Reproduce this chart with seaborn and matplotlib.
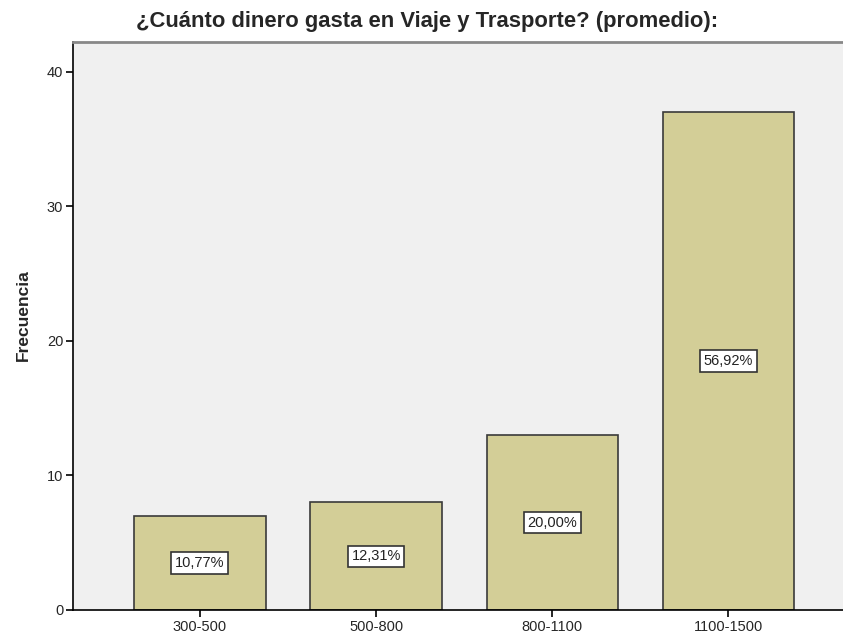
import matplotlib
matplotlib.use("Agg")
import matplotlib.pyplot as plt
import seaborn as sns
import pandas as pd

categorias = ["300-500", "500-800", "800-1100", "1100-1500"]
frecuencias = [7, 8, 13, 37]
porcentajes = ["10,77%", "12,31%", "20,00%", "56,92%"]

sns.set_style("white")
plt.rcParams['font.family'] = ['Liberation Sans', 'DejaVu Sans']

df = pd.DataFrame({"rango": categorias, "frecuencia": frecuencias})

fig = plt.figure(figsize=(8.43, 6.39), dpi=100)
ax = fig.add_axes([0.0866, 0.0454, 0.9134, 0.8886])
ax.set_facecolor("#f0f0f0")

sns.barplot(data=df, x="rango", y="frecuencia", color="#d3ce97",
            saturation=1, width=0.745, edgecolor="#3a3a3a", linewidth=1.2, ax=ax)

for i, (f, p) in enumerate(zip(frecuencias, porcentajes)):
    ax.text(i, f / 2, p, ha="center", va="center", fontsize=10.5, color="#222222",
            bbox=dict(boxstyle="square,pad=0.25", facecolor="white",
                      edgecolor="#333333", linewidth=1.2))

ax.set_xlim(-0.72, 3.65)
ax.set_ylim(0, 42.2)
ax.set_yticks([0, 10, 20, 30, 40])
ax.set_xlabel("")
ax.set_ylabel("Frecuencia", fontsize=12.5, fontweight="bold")
ax.yaxis.set_label_coords(-0.055, 0.52)
ax.tick_params(axis="both", labelsize=10.5, length=5, width=1.2, color="black",
               direction="out", left=True, bottom=True, pad=2)

for side in ["left", "bottom"]:
    ax.spines[side].set_color("black")
    ax.spines[side].set_linewidth(1.2)
ax.spines["top"].set_color("#888888")
ax.spines["top"].set_linewidth(2)
ax.spines["right"].set_visible(False)

fig.text(427 / 843, 1 - 21 / 639, "¿Cuánto dinero gasta en Viaje y Trasporte? (promedio):",
         ha="center", va="center", fontsize=15.8, fontweight="bold")

fig.savefig("out.png", dpi=100)
